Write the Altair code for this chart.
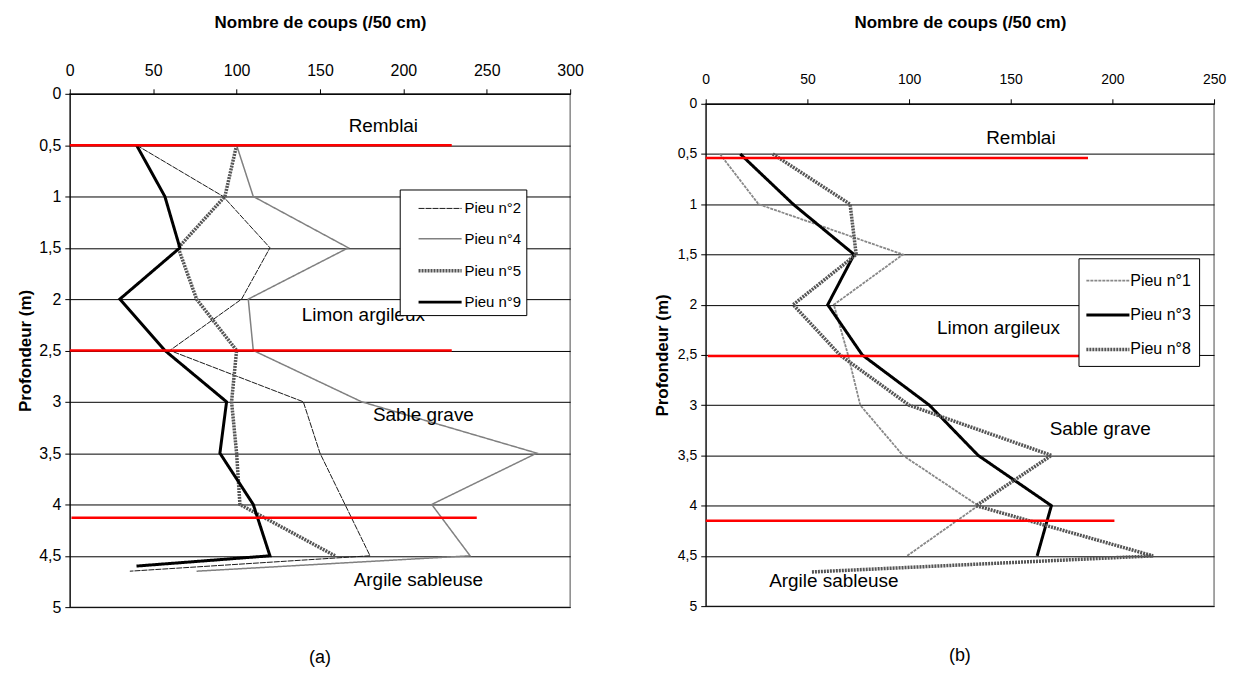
import altair as alt
import pandas as pd

# ---------------- data : panel (a) ----------------
depth_a = [0.5, 1.0, 1.5, 2.0, 2.5, 3.0, 3.5, 4.0, 4.5]
pieu2 = [40, 92, 120, 103, 60, 140, 150, 165, 180]
pieu4 = [100, 110, 167, 107, 110, 175, 280, 217, 240]
pieu5 = [100, 93, 65, 76, 100, 97, 100, 102, 159]
pieu9 = [40, 57, 66, 30, 57, 94, 90, 110, 120]
tail_a_names = ["Pieu n°2", "Pieu n°4", "Pieu n°9"]
tail_a_depth = [4.65, 4.65, 4.6]
tail_a_value = [36, 76, 40]

soil_a = ["Remblai", "Limon argileux", "Sable grave", "Argile sableuse"]
soil_a_x = [188, 176, 212, 209]
soil_a_y = [0.31, 2.15, 3.13, 4.74]

bound_a_depth = [0.5, 2.5, 4.13]
bound_a_start = [0, 0, 1]
bound_a_end = [229, 229, 244]

# ---------------- data : panel (b) ----------------
depth_b = [0.5, 1.0, 1.5, 2.0, 2.5, 3.0, 3.5, 4.0, 4.5]
pieu1 = [7, 26, 97, 63, 70, 76, 97, 134, 99]
pieu3 = [17, 43, 73, 60, 77, 110, 134, 170, 163]
pieu8 = [33, 71, 74, 43, 66, 100, 170, 133, 220]
tail_b_names = ["Pieu n°8"]
tail_b_depth = [4.66]
tail_b_value = [52]

soil_b = ["Remblai", "Limon argileux", "Sable grave", "Argile sableuse"]
soil_b_x = [155, 144, 194, 63]
soil_b_y = [0.34, 2.23, 3.24, 4.75]

bound_b_depth = [0.54, 2.51, 4.15]
bound_b_start = [0, 1, 0]
bound_b_end = [188, 189, 201]

depth_ticks = [0, 0.5, 1, 1.5, 2, 2.5, 3, 3.5, 4, 4.5, 5]


def series_frame(depths, series, tails_names, tails_depth, tails_value):
    rows = []
    for name, vals in series:
        i = 0
        for d, v in zip(depths, vals):
            rows.append({"pieu": name, "coups": v, "prof": d, "idx": i})
            i += 1
        for tn, td, tv in zip(tails_names, tails_depth, tails_value):
            if tn == name:
                rows.append({"pieu": name, "coups": tv, "prof": td, "idx": i})
                i += 1
    return pd.DataFrame(rows)


def panel(df, names, colors, dashes, widths, xmax, xvals, w, h,
          soil, soil_x, soil_y, b_depth, b_start, b_end, caption,
          leg, fs, x_title_pad, x_label_pad, y_title_pad):
    leg_obj = alt.Legend(
        title=None, orient="none", legendX=leg["x"], legendY=leg["y"],
        fillColor="white", strokeColor="black", padding=leg["pad"],
        symbolType="M-1.6,0H1.6", symbolSize=729, rowPadding=leg["row"],
        labelFontSize=leg["fs"], labelColor="black", labelOffset=leg["loff"],
        symbolOffset=leg["soff"],
    )
    xenc = alt.X("coups:Q", scale=alt.Scale(domain=[0, xmax], nice=False),
                 axis=alt.Axis(orient="top", values=xvals, grid=False,
                               title="Nombre de coups (/50 cm)",
                               titleFontSize=17, titleFontWeight="bold",
                               titlePadding=x_title_pad, labelFontSize=fs,
                               labelPadding=x_label_pad, tickSize=5,
                               labelFlush=False))
    yenc = alt.Y("prof:Q", scale=alt.Scale(domain=[0, 5], reverse=True, nice=False),
                 axis=alt.Axis(values=depth_ticks, grid=True, gridColor="black",
                               gridWidth=1, gridOpacity=1,
                               labelExpr="replace(format(datum.value, ''), '.', ',')",
                               title="Profondeur (m)", titleFontSize=17,
                               titleFontWeight="bold", titlePadding=y_title_pad,
                               labelFontSize=fs, labelPadding=4, tickSize=5))
    lines = alt.Chart(df).mark_line(strokeJoin="miter").encode(
        x=xenc, y=yenc,
        color=alt.Color("pieu:N", scale=alt.Scale(domain=names, range=colors), legend=leg_obj),
        strokeDash=alt.StrokeDash("pieu:N", scale=alt.Scale(domain=names, range=dashes), legend=leg_obj),
        strokeWidth=alt.StrokeWidth("pieu:N", scale=alt.Scale(type="ordinal", domain=names, range=widths),
                                    legend=leg_obj),
        order=alt.Order("idx:Q"),
    )
    bdf = pd.DataFrame({"prof": b_depth, "coups": b_start, "coups2": b_end})
    rules = alt.Chart(bdf).mark_rule(color="#ff0000", strokeWidth=2.5).encode(
        x="coups:Q", x2="coups2:Q", y="prof:Q")
    tdf = pd.DataFrame({"txt": soil, "coups": soil_x, "prof": soil_y})
    texts = alt.Chart(tdf).mark_text(fontSize=19, color="black").encode(
        x="coups:Q", y="prof:Q", text="txt:N")
    return alt.layer(lines, rules, texts).properties(
        width=w, height=h,
        title=alt.TitleParams(caption, orient="bottom", fontSize=18,
                              fontWeight="normal", offset=34, color="black"))


def spacer(h):
    return alt.Chart(pd.DataFrame({"v": [0]})).mark_point(opacity=0, size=0, strokeWidth=0).encode(
        x=alt.X("v:Q", axis=None), y=alt.Y("v:Q", axis=None)
    ).properties(width=1, height=h, view=alt.ViewBackground(stroke="transparent"))


names_a = ["Pieu n°2", "Pieu n°4", "Pieu n°5", "Pieu n°9"]
df_a = series_frame(depth_a, list(zip(names_a, [pieu2, pieu4, pieu5, pieu9])),
                    tail_a_names, tail_a_depth, tail_a_value)
names_b = ["Pieu n°1", "Pieu n°3", "Pieu n°8"]
df_b = series_frame(depth_b, list(zip(names_b, [pieu1, pieu3, pieu8])),
                    tail_b_names, tail_b_depth, tail_b_value)

left = panel(df_a, names_a, ["#1a1a1a", "#808080", "#555555", "#000000"],
             [[6, 1], [1, 0], [2, 1], [1, 0]], [1, 1.5, 3.5, 3],
             300, [0, 50, 100, 150, 200, 250, 300], 502, 515,
             soil_a, soil_a_x, soil_a_y, bound_a_depth, bound_a_start, bound_a_end,
             "(a)", {"x": 331, "y": 180, "pad": 5, "row": 8, "fs": 15, "loff": 9, "soff": 20},
             16, 32, 10, 4)
right = panel(df_b, names_b, ["#888888", "#000000", "#555555"],
              [[3, 1], [1, 0], [2, 1]], [1.8, 3, 3.5],
              250, [0, 50, 100, 150, 200, 250], 510, 504,
              soil_b, soil_b_x, soil_b_y, bound_b_depth, bound_b_start, bound_b_end,
              "(b)", {"x": 374, "y": 249, "pad": 8, "row": 11, "fs": 16, "loff": 7, "soff": 6},
              14, 42, 12, 6)

chart = alt.hconcat(
    alt.vconcat(spacer(1), left, spacing=0),
    alt.vconcat(spacer(1), right, spacing=0),
    spacing=67,
).resolve_scale(
    color="independent", strokeDash="independent", strokeWidth="independent"
).resolve_legend(
    color="independent", strokeDash="independent", strokeWidth="independent"
).properties(
    padding={"left": 8, "top": 0, "right": 5, "bottom": 5}
).configure(font="Liberation Sans").configure_view(
    stroke="#888888", strokeWidth=1.5
).configure_axis(
    domainColor="black", tickColor="black", labelColor="black", titleColor="black",
    domainWidth=1
)

chart.save("out.html", embed_options={"renderer": "svg", "actions": False})
